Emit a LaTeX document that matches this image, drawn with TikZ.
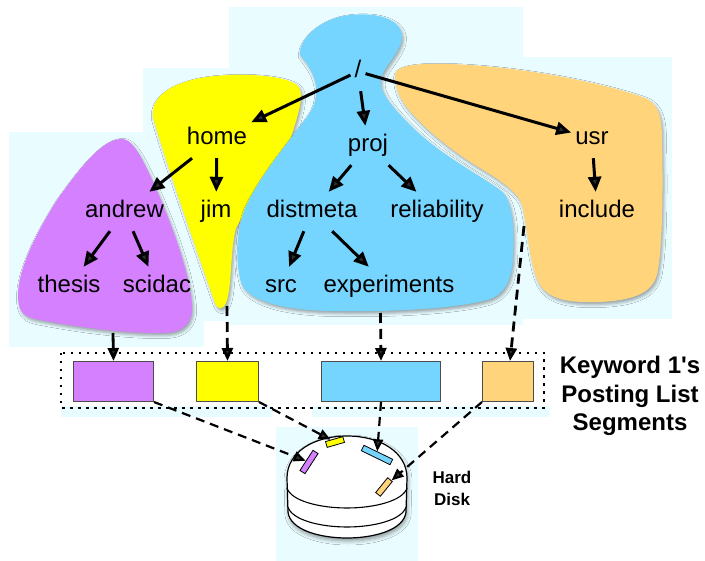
\documentclass[tikz,border=0pt]{standalone}
\usepackage{fontspec}
\newfontfamily\labelfont{Liberation Sans}
\usetikzlibrary{arrows.meta,shadows.blur}
\definecolor{pale}{RGB}{233,252,255}
\definecolor{lilac}{RGB}{213,128,255}
\definecolor{lemon}{RGB}{255,255,0}
\definecolor{sky}{RGB}{117,213,255}
\definecolor{apricot}{RGB}{255,212,122}

\begin{document}
\begin{tikzpicture}[x=1pt,y=-1pt,
  dirname/.style={font=\labelfont\fontsize{24}{28}\selectfont, text height=18pt, text depth=5pt, inner xsep=4pt, inner ysep=8pt},
  tree/.style={line width=3pt, -{Triangle[length=15pt,width=13pt]}},
  feed/.style={line width=2.8pt, dash pattern=on 10pt off 6pt, -{Triangle[length=13pt,width=11pt]}},
  seek/.style={line width=2.2pt, dash pattern=on 9pt off 6pt, -{Triangle[length=12pt,width=10pt]}},
  region/.style={blur shadow={shadow xshift=1.5pt, shadow yshift=-2.5pt, shadow blur radius=3pt, shadow opacity=35}},
  segment/.style={draw=black!70, line width=1pt, anchor=north west, inner sep=0pt, minimum height=40pt},
  platter/.style={draw=black, line width=0.8pt, minimum height=6pt, inner sep=0pt},
]
\useasboundingbox (0,0) rectangle (705,561);

% pale backdrops behind the groups
\fill[pale] (9,132) rectangle (204,347);
\fill[pale] (143,68) rectangle (312,321);
\fill[pale] (229,7) rectangle (523,325);
\fill[pale] (388,57) rectangle (672,319);
\fill[pale] (61,406) rectangle (272,417);
\fill[pale] (312,406) rectangle (550,417);
\fill[pale] (276,427) rectangle (418,561);

% directory groups
\fill[lilac, region] (120,139) .. controls (100,140) and (75,175) .. (57,200)
  .. controls (35,235) and (18,270) .. (18,295)
  .. controls (18,310) and (22,316) .. (35,319)
  .. controls (80,328) and (130,334) .. (165,333)
  .. controls (185,332) and (193,322) .. (192,305)
  .. controls (190,270) and (165,205) .. (145,165)
  .. controls (135,145) and (128,138) .. (120,139) -- cycle;

\fill[lemon, region] (153,117) .. controls (150,95) and (175,80) .. (215,76)
  .. controls (250,73) and (285,76) .. (297,85)
  .. controls (305,92) and (300,110) .. (290,140)
  .. controls (275,180) and (245,210) .. (236,228)
  .. controls (230,250) and (232,290) .. (226,303)
  .. controls (223,310) and (218,310) .. (215,303)
  .. controls (200,260) and (165,160) .. (153,117) -- cycle;

\fill[sky, region] (300,55) .. controls (298,40) and (320,18) .. (350,15)
  .. controls (380,12) and (400,20) .. (402,35)
  .. controls (403,50) and (385,65) .. (381,78)
  .. controls (378,90) and (390,105) .. (410,125)
  .. controls (440,155) and (480,175) .. (500,190)
  .. controls (515,200) and (514,240) .. (513,257)
  .. controls (512,280) and (505,295) .. (487,300)
  .. controls (450,310) and (380,312) .. (330,311)
  .. controls (280,310) and (250,300) .. (242,285)
  .. controls (235,265) and (236,230) .. (245,208)
  .. controls (260,175) and (290,140) .. (307,117)
  .. controls (322,97) and (318,75) .. (300,55) -- cycle;

\fill[apricot, region] (395,75) .. controls (395,65) and (420,63) .. (450,64)
  .. controls (530,67) and (610,85) .. (645,98)
  .. controls (660,104) and (662,120) .. (662,140)
  .. controls (663,180) and (663,240) .. (658,270)
  .. controls (655,290) and (640,300) .. (600,302)
  .. controls (570,303) and (550,300) .. (540,285)
  .. controls (530,270) and (528,230) .. (522,205)
  .. controls (518,192) and (500,180) .. (480,168)
  .. controls (450,150) and (420,125) .. (405,105)
  .. controls (398,95) and (395,85) .. (395,75) -- cycle;

% directory names
\node[dirname] (root) at (358,71.5) {/};
\node[dirname] (home) at (217,138.5) {home};
\node[dirname] (proj) at (368,145.5) {proj};
\node[dirname] (usr) at (592,138.5) {usr};
\node[dirname] (andrew) at (124.5,211.5) {andrew};
\node[dirname] (jim) at (216,211.5) {jim};
\node[dirname] (distmeta) at (312,211.5) {distmeta};
\node[dirname] (reliability) at (437,211.5) {reliability};
\node[dirname] (include) at (597,211.5) {include};
\node[dirname] (thesis) at (69,286.5) {thesis};
\node[dirname] (scidac) at (157,286.5) {scidac};
\node[dirname] (src) at (281,286.5) {src};
\node[dirname] (experiments) at (389,286.5) {experiments};

\draw[tree] (root) -- (home);
\draw[tree] (root) -- (proj);
\draw[tree] (root) -- (usr);
\draw[tree] (home) -- (andrew);
\draw[tree] (home) -- (jim);
\draw[tree] (andrew) -- (thesis);
\draw[tree] (andrew) -- (scidac);
\draw[tree] (proj) -- (distmeta);
\draw[tree] (proj) -- (reliability);
\draw[tree] (distmeta) -- (src);
\draw[tree] (distmeta) -- (experiments);
\draw[tree] (usr) -- (include);

% posting list segments
\draw[line width=2.5pt, dash pattern=on 2.5pt off 5.5pt] (61,353) rectangle (544,408);
\node[segment, fill=lilac, minimum width=80pt] (segA) at (73,361) {};
\node[segment, fill=lemon, minimum width=62pt] (segB) at (196,361) {};
\node[segment, fill=sky, minimum width=119pt] (segC) at (321,361) {};
\node[segment, fill=apricot, minimum width=51pt] (segD) at (482,361) {};

\node[font=\labelfont\bfseries\fontsize{24}{28.5}\selectfont, align=center] (kw) at (630,396) {Keyword 1's\\Posting List\\Segments};

\coordinate (lilacfoot) at (113,333);
\coordinate (lemonfoot) at (227,306);
\coordinate (skyfoot) at (380.5,313);
\coordinate (apricotfoot) at (524,226);

\draw[line width=2.8pt, -{Triangle[length=13pt,width=11pt]}] (lilacfoot) -- (segA.north);
\draw[feed] (lemonfoot) -- (segB.north);
\draw[feed] (skyfoot) -- (segC.north);
\draw[feed] (apricotfoot) -- ([xshift=2pt]segD.north);

% hard disk
\filldraw[fill=white, draw=black, line width=1.2pt, blur shadow={shadow xshift=1pt, shadow yshift=-3pt, shadow blur radius=4pt, shadow opacity=40}]
  (287,478) -- (288,512) .. controls (290,530) and (320,538) .. (347,538)
  .. controls (374,538) and (404,530) .. (406,512) -- (407,478)
  .. controls (407,452) and (380,436) .. (347,436)
  .. controls (314,436) and (287,452) .. (287,478) -- cycle;
\draw[line width=1.1pt] (287,488) .. controls (291,501) and (320,508) .. (347,508)
  .. controls (374,508) and (403,501) .. (407,488);
\draw[line width=1.1pt] (288,507) .. controls (292,520) and (320,527) .. (347,527)
  .. controls (374,527) and (402,520) .. (406,507);

\node[platter, fill=lilac, minimum width=24pt, rotate=57] (diskA) at (309,462) {};
\node[platter, fill=lemon, minimum width=18pt, rotate=16] (diskB) at (335,442) {};
\node[platter, fill=sky, minimum width=32pt, rotate=-26] (diskC) at (377,455) {};
\node[platter, fill=apricot, minimum width=19pt, rotate=51] (diskD) at (384,487) {};

\draw[seek] (segA.south east) -- (diskA);
\draw[seek] (segB.south east) -- (diskB);
\draw[seek] (segC.south) -- (diskC);
\draw[seek] (segD.south west) -- (diskD);

\node[font=\labelfont\bfseries\fontsize{17}{22}\selectfont, align=center] (hd) at (452,488) {Hard\\Disk};
\end{tikzpicture}
\end{document}
